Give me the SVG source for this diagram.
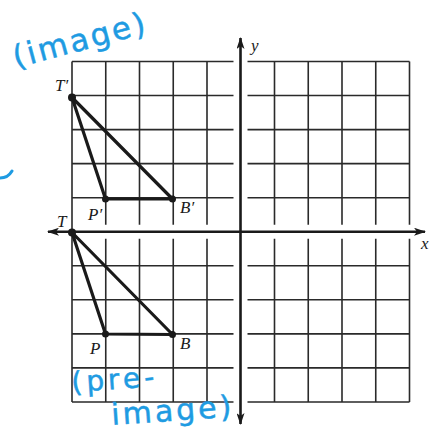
<svg xmlns="http://www.w3.org/2000/svg" width="432" height="437" viewBox="0 0 432 437">
<defs>
<style>
.grid{stroke:#2a2a2a;stroke-width:1.6;fill:none}
.gap{stroke:#fff;stroke-width:14}
.axis{stroke:#1a1a1a;stroke-width:2.6;fill:none}
.tri{stroke:#1a1a1a;stroke-width:3.2;fill:none;stroke-linejoin:round}
.dot{fill:#1a1a1a}
.lbl{font-family:"Liberation Serif",serif;font-style:italic;font-size:17px;fill:#1a1a1a}
.hand{font-family:"DejaVu Sans",sans-serif;fill:#1e9be2;stroke:#1e9be2;stroke-width:0.5}
</style>
<marker id="arr" viewBox="0 0 12 8" refX="11" refY="4" markerWidth="12" markerHeight="8" markerUnits="userSpaceOnUse" orient="auto">
<path d="M0,0 L12,4 L0,8 L3,4 Z" fill="#1a1a1a"/>
</marker>
</defs>
<rect width="432" height="437" fill="#fff"/>
<g id="grid" class="grid">
<path d="M72,61.5V402M105.75,61.5V402M139.5,61.5V402M173.25,61.5V402M207,61.5V402M274.5,61.5V402M308.25,61.5V402M342,61.5V402M375.75,61.5V402M409.5,61.5V402"/>
<path d="M72,61.5H409.5M72,95.5H409.5M72,129.6H409.5M72,163.6H409.5M72,197.7H409.5M72,265.8H409.5M72,299.8H409.5M72,333.9H409.5M72,367.9H409.5M72,402H409.5"/>
</g>
<g id="gaps">
<line class="gap" x1="240.5" y1="55" x2="240.5" y2="410"/>
<line class="gap" x1="78" y1="231.7" x2="416" y2="231.7"/>
</g>
<g id="connectors">
<line class="axis" x1="240.5" y1="232" x2="240.5" y2="38" marker-end="url(#arr)"/>
<line class="axis" x1="240.5" y1="232" x2="240.5" y2="424" marker-end="url(#arr)"/>
<line class="axis" x1="240.5" y1="231.7" x2="425" y2="231.7" marker-end="url(#arr)"/>
<line class="axis" x1="240.5" y1="231.7" x2="48" y2="231.7" marker-end="url(#arr)"/>
</g>
<g id="axis-labels">
<text class="lbl" x="251" y="51">y</text>
<text class="lbl" x="421" y="249">x</text>
</g>
<g id="image-triangle">
<path class="tri" d="M72,97.5L105.5,199L172.5,199Z"/>
<circle class="dot" cx="72" cy="97.5" r="4"/>
<circle class="dot" cx="105.5" cy="199" r="3.5"/>
<circle class="dot" cx="172.5" cy="199" r="3.5"/>
<text class="lbl" x="55" y="91">T′</text>
<text class="lbl" x="88" y="220">P′</text>
<text class="lbl" x="180" y="213">B′</text>
</g>
<g id="preimage-triangle">
<path class="tri" d="M72,232.5L105.5,334L172.5,334.5Z"/>
<circle class="dot" cx="72" cy="232.5" r="4"/>
<circle class="dot" cx="105.5" cy="334" r="3.5"/>
<circle class="dot" cx="172.5" cy="334.5" r="3.5"/>
<text class="lbl" x="57" y="227">T</text>
<text class="lbl" x="90" y="354">P</text>
<text class="lbl" x="180" y="349">B</text>
</g>
<g id="handwriting">
<text class="hand" font-size="31" letter-spacing="2.5" transform="translate(16,68) rotate(-15)">(image)</text>
<text class="hand" font-size="28" letter-spacing="4" transform="translate(72,392) rotate(-4)">(pre-</text>
<text class="hand" font-size="30" letter-spacing="3" transform="translate(112,425) rotate(-4)">image)</text>
<path d="M0,178 Q8,178 12,171" fill="none" stroke="#1e9be2" stroke-width="3" stroke-linecap="round"/>
</g>
</svg>
